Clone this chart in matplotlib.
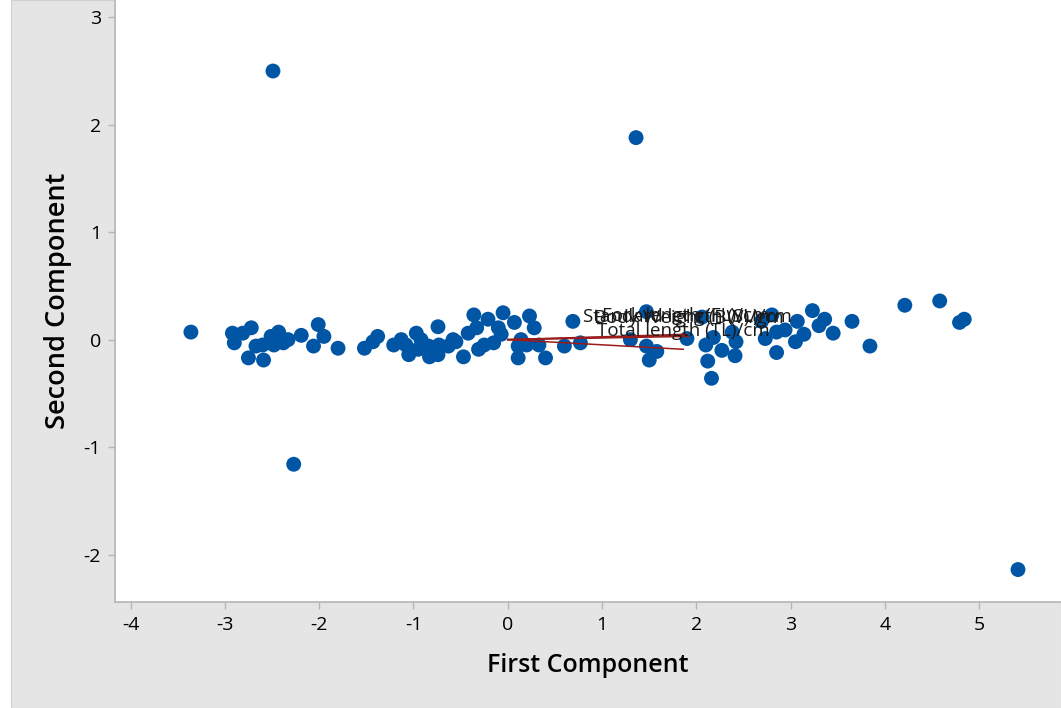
import matplotlib
matplotlib.use("Agg")
import matplotlib.pyplot as plt
from matplotlib.patches import Rectangle

plt.rcParams['font.family'] = ['Open Sans', 'DejaVu Sans']
plt.rcParams['axes.unicode_minus'] = False

# PCA scores (first, second component)
first_comp = [
    -3.36, -2.92, -2.90, -2.81, -2.72, -2.75, -2.67, -2.59, -2.60, -2.51,
    -2.48, -2.43, -2.38, -2.33, -2.19, -2.01, -1.95, -2.06, -1.80,
    -1.52, -1.38, -1.43, -1.21, -1.13, -1.05, -0.97, -0.95, -0.84, -0.83,
    -0.74, -0.73, -0.74, -0.55, -0.47, -0.42, -0.36, -0.33, -0.31, -0.21,
    -0.15, -0.10, -0.05, 0.07, 0.11, 0.11, 0.23, 0.28, 0.14, 0.33, 0.40,
    0.60, 0.69, 0.77,
    -1.08, -0.92, -0.63, -0.58, -0.25, -0.07, 0.20,
    1.30, 1.47, 1.58, 1.50, 1.47, 1.90, 2.10, 2.12, 2.16, 2.27,
    2.41, 2.42, 2.18, 2.06, 2.38, 2.73, 2.85, 2.85, 2.94, 3.05,
    3.14, 3.07, 3.23, 3.30, 3.36, 3.45, 3.65, 3.84, 4.21, 4.58,
    4.84, 4.79, 2.69, 2.80,
    -2.49, 1.36, -2.27, 5.41,
]
second_comp = [
    0.07, 0.06, -0.03, 0.06, 0.11, -0.17, -0.06, -0.19, -0.05, 0.03,
    -0.05, 0.07, -0.03, 0.00, 0.04, 0.14, 0.03, -0.06, -0.08,
    -0.08, 0.03, -0.02, -0.05, 0.00, -0.14, 0.06, -0.09, -0.06, -0.16,
    0.12, -0.05, -0.14, -0.02, -0.16, 0.06, 0.23, 0.11, -0.09, 0.19,
    -0.03, 0.11, 0.25, 0.16, -0.06, -0.17, 0.22, 0.11, 0.00, -0.05, -0.17,
    -0.06, 0.17, -0.03,
    -0.05, 0.00, -0.06, 0.00, -0.05, 0.05, -0.05,
    0.00, -0.06, -0.11, -0.19, 0.26, 0.01, -0.05, -0.20, -0.36, -0.10,
    -0.15, -0.02, 0.02, 0.21, 0.07, 0.01, -0.12, 0.07, 0.09, -0.02,
    0.05, 0.17, 0.27, 0.13, 0.19, 0.06, 0.17, -0.06, 0.32, 0.36,
    0.19, 0.16, 0.17, 0.23,
    2.50, 1.88, -1.16, -2.14,
]

# Loading vectors
var_names = ["Standard length (SL)/cm", "Body Weight (BW)/gm",
             "Fork length (FL)/cm", "Total length (TL)/cm"]
load_x = [1.90, 1.92, 1.89, 1.86]
load_y = [0.04, 0.03, 0.05, -0.09]

fig = plt.figure(figsize=(10.61, 7.08), dpi=100, facecolor='white')
fig.patches.append(Rectangle((11 / 1061, 0), 1 - 11 / 1061, 1,
                             transform=fig.transFigure, facecolor='#e5e5e5',
                             edgecolor='#d0d0d0', linewidth=0.8, zorder=-10))

ax = fig.add_axes([115 / 1061, 1 - 602 / 708, 1 - 115 / 1061, 602 / 708])
ax.set_zorder(5)
ax.set_facecolor('white')
ax.scatter(first_comp, second_comp, s=115, color='#0055a5', edgecolors='none', zorder=2)

for name, lx, ly in zip(var_names, load_x, load_y):
    ax.plot([0, lx], [0, ly], color='#9b1b1b', lw=1.1, zorder=3)
    ax.annotate(name, (lx, ly), xytext=(0, 7), textcoords='offset points',
                ha='center', va='bottom', fontsize=13.5, color='#1a1a1a', zorder=4)

ax.set_xlim(-4.165, 5.866)
ax.set_ylim(-2.442, 3.161)
ax.set_xticks(range(-4, 6))
ax.set_yticks(range(-2, 4))
ax.set_xticklabels([str(v) for v in range(-4, 6)])
ax.set_yticklabels([str(v) for v in range(-2, 4)])

for s in ['top', 'right']:
    ax.spines[s].set_visible(False)
for s in ['left', 'bottom']:
    ax.spines[s].set_color('#b5b5b5')
    ax.spines[s].set_linewidth(1.2)
ax.tick_params(axis='both', colors='#b5b5b5', labelcolor='black',
               labelsize=14, length=5, width=1, pad=5, direction='out')

ax.set_xlabel("First Component", fontsize=18, fontweight='semibold', labelpad=14)
ax.set_ylabel("Second Component", fontsize=19.5, fontweight='semibold', labelpad=8)

fig.savefig("out.png", dpi=100, facecolor=fig.get_facecolor())
